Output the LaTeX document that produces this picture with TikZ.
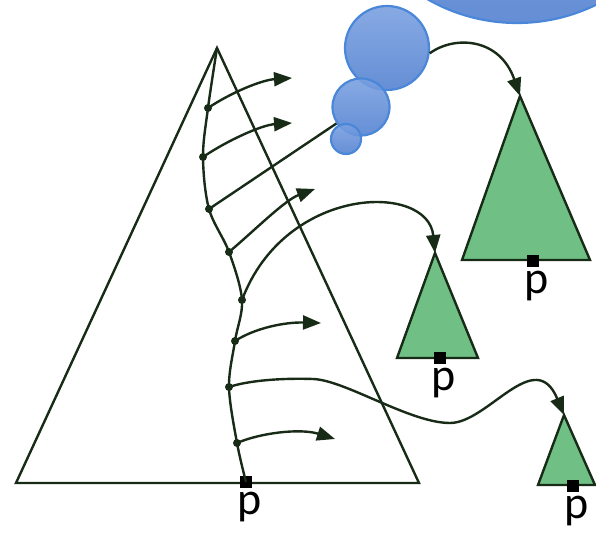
\documentclass[tikz,border=0pt]{standalone}
\usepackage{fontspec}
\setsansfont{Carlito}
\usetikzlibrary{arrows.meta,positioning}
\definecolor{linecol}{rgb}{0.09,0.17,0.09}
\definecolor{treegreen}{rgb}{0.44,0.75,0.52}
\definecolor{bubbletop}{rgb}{0.48,0.63,0.88}
\definecolor{bubblebot}{rgb}{0.33,0.51,0.82}
\definecolor{bubbleline}{rgb}{0.29,0.53,0.85}

\begin{document}
\begin{tikzpicture}
 [x=1pt, y=-1pt,
  wire/.style={draw=linecol, line width=2.4pt},
  flow/.style={wire, -{Triangle[length=18pt,width=14pt]}},
  tree/.style={draw=linecol, line width=2.4pt, line join=miter},
  spot/.style={circle, fill=linecol, inner sep=0pt, minimum size=8pt},
  root/.style={rectangle, fill=black, inner sep=0pt, minimum size=12pt},
  plabel/.style={inner sep=1pt, xshift=4pt, font=\sffamily\fontsize{46}{46}\selectfont},
  bubble/.style={circle, inner sep=0pt, draw=bubbleline, line width=2.2pt,
    top color=bubbletop, bottom color=bubblebot, fill opacity=0.9}]

 \useasboundingbox (0,0) rectangle (596,534);
 \clip (0,0) rectangle (596,534);

 % big tree
 \coordinate (top) at (217,48);
 \draw[tree, fill=white] (top) -- (419,483) -- (16,483) -- cycle;

 % bubbles
 \node[bubble, minimum size=360pt] (c1) at (517,-157) {};
 \node[bubble, minimum size=84pt] (c2) at (387,48) {};
 \node[bubble, minimum size=57pt] (c3) at (361,107) {};
 \node[bubble, minimum size=30pt] (c4) at (346,139) {};

 % small trees
 \coordinate (tT) at (520,96);
 \coordinate (tM) at (435,253);
 \coordinate (tS) at (564,415);
 \draw[tree, fill=treegreen] (tT) -- (590,260) -- (462,260) -- cycle;
 \draw[tree, fill=treegreen] (tM) -- (478,358) -- (397,358) -- cycle;
 \draw[tree, fill=treegreen] (tS) -- (595,485) -- (538,485) -- cycle;

 % spots on the path
 \node[spot] (d1) at (208,108) {};
 \node[spot] (d2) at (203,157) {};
 \node[spot] (d3) at (209,209) {};
 \node[spot] (d4) at (229,252) {};
 \node[spot] (d5) at (242,300) {};
 \node[spot] (d6) at (235,341) {};
 \node[spot] (d7) at (229,387) {};
 \node[spot] (d8) at (237,443) {};

 \node[root] (rootB) at (246,482) {};
 \node[root] (rootT) at (533,261) {};
 \node[root] (rootM) at (440,358) {};
 \node[root] (rootS) at (573,486) {};

 \node[plabel] (pB) [below=3pt of rootB] {p};
 \node[plabel] (pT) [below=3pt of rootT] {p};
 \node[plabel] (pM) [below=3pt of rootM] {p};
 \node[plabel] (pS) [below=3pt of rootS] {p};

 \draw[wire] plot[smooth, tension=0.55] coordinates {(top) (d1.center) (d2.center)
   (d3.center) (d4.center) (d5.center) (d6.center) (d7.center) (d8.center) (rootB.center)};

 \coordinate (a1) at (292,78);
 \coordinate (a2) at (292,123);
 \coordinate (a4) at (315,189);
 \coordinate (a6) at (321,323);
 \coordinate (a8) at (335,439);
 \coordinate (bend1) at (313,379);
 \coordinate (bend2) at (450,423);

 \draw[flow] (d1.center) .. controls (232,92) and (262,80) .. (a1);
 \draw[flow] (d2.center) .. controls (228,140) and (262,125) .. (a2);
 \draw[wire] (d3.center) -- (c3);
 \draw[flow] (d4.center) .. controls (255,230) and (285,200) .. (a4);
 \draw[flow] (d5.center) .. controls (285,185) and (428,182) .. (tM);
 \draw[flow] (d6.center) .. controls (255,328) and (285,322) .. (a6);
 \draw[flow] (d7.center) .. controls (250,380) and (285,378) .. (bend1)
   .. controls (345,380) and (410,423) .. (bend2)
   .. controls (488,423) and (535,345) .. (tS);
 \draw[flow] (d8.center) .. controls (260,433) and (300,428) .. (a8);
 \draw[flow] (c2.-7) .. controls (455,35) and (500,38) .. (tT);

\end{tikzpicture}
\end{document}
